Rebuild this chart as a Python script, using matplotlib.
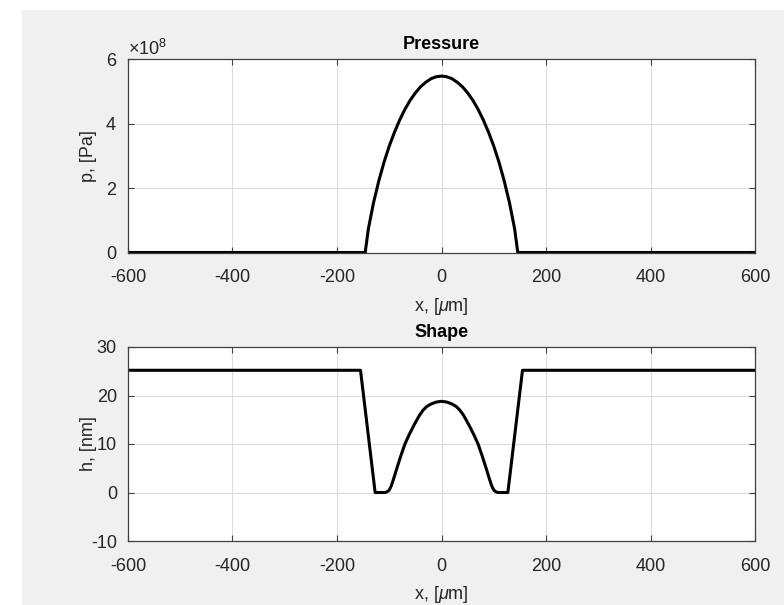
import numpy as np
import matplotlib.pyplot as plt
from matplotlib.patches import Rectangle
from matplotlib.ticker import ScalarFormatter

plt.rcParams['font.family'] = ['Liberation Sans', 'DejaVu Sans']
plt.rcParams['mathtext.fontset'] = 'custom'
plt.rcParams['mathtext.rm'] = 'Liberation Sans'
plt.rcParams['mathtext.it'] = 'Liberation Sans:italic'
plt.rcParams['axes.unicode_minus'] = False

# pressure profile, x in um, p in 1e8 Pa
x_p = [-600, -146, -140, -130, -120, -110, -100, -90, -80, -70, -60, -50, -40,
       -30, -20, -10, 0, 10, 20, 30, 40, 50, 60, 70, 80, 90, 100, 110, 120,
       130, 140, 146, 600]
p_vals = [0, 0, 0.73, 1.55, 2.22, 2.80, 3.30, 3.73, 4.11, 4.44, 4.72, 4.95, 5.14,
          5.28, 5.39, 5.45, 5.47, 5.45, 5.39, 5.28, 5.14, 4.95, 4.72, 4.44, 4.11,
          3.73, 3.30, 2.80, 2.22, 1.55, 0.73, 0, 0]
p_vals = [v * 1e8 for v in p_vals]

# film shape, x in um, h in nm
x_h = [-600, -155, -127, -108, -104, -100, -96, -92, -86, -78, -70, -62, -54,
       -47, -42, -35, -28, -20, -10, 0, 10, 20, 28, 35, 42, 47, 54, 62, 70,
       78, 86, 92, 96, 100, 104, 108, 127, 155, 600]
h_vals = [25.2, 25.2, 0, 0, 0.15, 0.5, 1.4, 2.7, 4.8, 7.5, 10.0, 11.9, 13.6,
          15.0, 15.95, 17.0, 17.75, 18.25, 18.65, 18.8, 18.65, 18.25, 17.75,
          17.0, 15.95, 15.0, 13.6, 11.9, 10.0, 7.5, 4.8, 2.7, 1.4, 0.5, 0.15,
          0, 0, 25.2, 25.2]

x_ticks = [-600, -400, -200, 0, 200, 400, 600]

dark = '#262626'
fig = plt.figure(figsize=(7.84, 6.05), dpi=100)
fig.patch.set_facecolor('white')
fig.patches.append(Rectangle((22 / 784, 0), 1, 595 / 605, transform=fig.transFigure,
                             facecolor='#f0f0f0', edgecolor='none', zorder=-10))

ax1 = fig.add_axes([128 / 784, 1 - 252.5 / 605, 627 / 784, 193.5 / 605])
ax2 = fig.add_axes([128 / 784, 1 - 541 / 605, 627 / 784, 194 / 605])


def style(ax):
    ax.set_facecolor('white')
    ax.grid(True, color='#dcdcdc', linewidth=0.8)
    ax.set_axisbelow(True)
    for s in ax.spines.values():
        s.set_color('#404040')
        s.set_linewidth(0.9)
    ax.tick_params(direction='in', length=4, width=0.8, top=True, right=True,
                   colors='#404040', labelcolor=dark, labelsize=13)
    ax.tick_params(axis='x', pad=12)
    ax.tick_params(axis='y', pad=8)
    ax.set_xlim(-600, 600)
    ax.set_xticks(x_ticks)
    ax.set_xlabel(r'x, [$\mu$m]', fontsize=13, color=dark, labelpad=7)
    ax.yaxis.set_label_coords(-0.05, 0.5)


ax1.plot(x_p, p_vals, color='black', linewidth=2.2)
style(ax1)
ax1.set_ylim(0, 6e8)
ax1.set_yticks([0, 2e8, 4e8, 6e8])
fmt = ScalarFormatter(useMathText=True)
fmt.set_powerlimits((0, 0))
ax1.yaxis.set_major_formatter(fmt)
ax1.yaxis.get_offset_text().set_fontsize(13)
ax1.yaxis.get_offset_text().set_color(dark)
ax1.set_ylabel('p, [Pa]', fontsize=13, color=dark)
ax1.set_title('Pressure', fontsize=13, fontweight='bold', color='black', pad=7)

ax2.plot(x_h, h_vals, color='black', linewidth=2.2)
style(ax2)
ax2.set_ylim(-10, 30)
ax2.set_yticks([-10, 0, 10, 20, 30])
ax2.set_ylabel('h, [nm]', fontsize=13, color=dark)
ax2.set_title('Shape', fontsize=13, fontweight='bold', color='black', pad=7)

fig.savefig('out.png', dpi=100)
